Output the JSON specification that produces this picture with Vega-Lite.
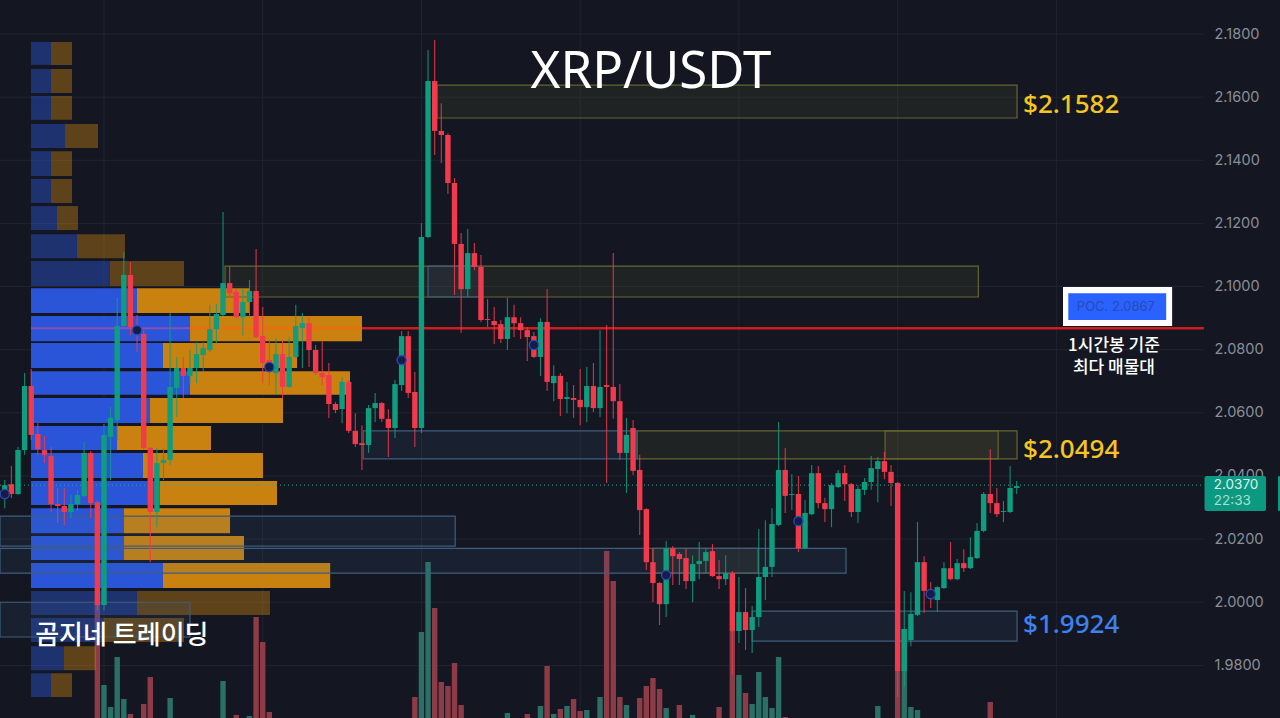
{"$schema":"https://vega.github.io/schema/vega-lite/v6.json","width":1280,"height":718,"autosize":"none","padding":0,"background":"#141722","config":{"view":{"stroke":null}},
"datasets":{
"ticks":[{"p":1.98},{"p":2.0},{"p":2.02},{"p":2.04},{"p":2.06},{"p":2.08},{"p":2.1},{"p":2.12},{"p":2.14},{"p":2.16},{"p":2.18}],
"vgrid":[{"i":15},{"i":39},{"i":63},{"i":87},{"i":111},{"i":135},{"i":159}],
"volume":[{"i":14,"v":113,"d":"down"},{"i":15,"v":33,"d":"up"},{"i":16,"v":11,"d":"up"},{"i":17,"v":61,"d":"up"},{"i":18,"v":19,"d":"up"},{"i":19,"v":4,"d":"down"},{"i":21,"v":14,"d":"down"},{"i":22,"v":41,"d":"down"},{"i":25,"v":20,"d":"up"},{"i":33,"v":37,"d":"up"},{"i":35,"v":3,"d":"down"},{"i":37,"v":2,"d":"up"},{"i":38,"v":101,"d":"down"},{"i":39,"v":76,"d":"down"},{"i":40,"v":6,"d":"down"},{"i":62,"v":21,"d":"down"},{"i":63,"v":86,"d":"up"},{"i":64,"v":156,"d":"up"},{"i":65,"v":110,"d":"down"},{"i":66,"v":36,"d":"down"},{"i":67,"v":32,"d":"down"},{"i":68,"v":55,"d":"down"},{"i":69,"v":13,"d":"down"},{"i":76,"v":5,"d":"up"},{"i":79,"v":4,"d":"down"},{"i":81,"v":12,"d":"up"},{"i":82,"v":52,"d":"down"},{"i":83,"v":4,"d":"up"},{"i":84,"v":9,"d":"down"},{"i":85,"v":12,"d":"up"},{"i":86,"v":19,"d":"down"},{"i":87,"v":7,"d":"down"},{"i":88,"v":8,"d":"up"},{"i":90,"v":21,"d":"up"},{"i":91,"v":167,"d":"down"},{"i":92,"v":137,"d":"down"},{"i":93,"v":21,"d":"down"},{"i":94,"v":13,"d":"up"},{"i":96,"v":20,"d":"down"},{"i":97,"v":32,"d":"down"},{"i":98,"v":40,"d":"down"},{"i":99,"v":29,"d":"down"},{"i":100,"v":10,"d":"up"},{"i":102,"v":13,"d":"down"},{"i":104,"v":3,"d":"up"},{"i":108,"v":11,"d":"down"},{"i":110,"v":87,"d":"down"},{"i":111,"v":43,"d":"up"},{"i":112,"v":25,"d":"down"},{"i":113,"v":14,"d":"up"},{"i":114,"v":46,"d":"up"},{"i":115,"v":21,"d":"up"},{"i":116,"v":10,"d":"up"},{"i":117,"v":61,"d":"up"},{"i":118,"v":1,"d":"down"},{"i":132,"v":12,"d":"up"},{"i":135,"v":47,"d":"down"},{"i":136,"v":89,"d":"up"},{"i":137,"v":11,"d":"up"},{"i":138,"v":8,"d":"up"},{"i":149,"v":16,"d":"down"}],
"profile":[
{"hi":2.1775,"lo":2.1702,"s":3.97,"m":6.99,"e":10.17,"f":1},
{"hi":2.1689,"lo":2.1613,"s":3.97,"m":6.99,"e":10.17,"f":1},
{"hi":2.1604,"lo":2.1528,"s":3.97,"m":6.99,"e":10.17,"f":1},
{"hi":2.1515,"lo":2.1439,"s":3.97,"m":9.11,"e":14.1,"f":1},
{"hi":2.1429,"lo":2.135,"s":3.97,"m":6.99,"e":10.17,"f":1},
{"hi":2.1341,"lo":2.1265,"s":3.97,"m":6.99,"e":10.17,"f":1},
{"hi":2.1255,"lo":2.1179,"s":3.97,"m":7.9,"e":11.07,"f":1},
{"hi":2.1166,"lo":2.109,"s":3.97,"m":10.92,"e":18.18,"f":1},
{"hi":2.1081,"lo":2.1002,"s":3.97,"m":15.91,"e":27.1,"f":1},
{"hi":2.0995,"lo":2.0916,"s":3.97,"m":19.99,"e":37.08,"f":0},
{"hi":2.0907,"lo":2.0827,"s":3.97,"m":28.01,"e":54.01,"f":0},
{"hi":2.0821,"lo":2.0742,"s":3.97,"m":23.92,"e":44.19,"f":0},
{"hi":2.0732,"lo":2.0657,"s":3.97,"m":28.01,"e":52.2,"f":0},
{"hi":2.0647,"lo":2.0568,"s":3.97,"m":21.96,"e":42.07,"f":0},
{"hi":2.0558,"lo":2.0482,"s":3.97,"m":16.97,"e":31.18,"f":0},
{"hi":2.0473,"lo":2.0394,"s":3.97,"m":20.9,"e":39.04,"f":0},
{"hi":2.0384,"lo":2.0308,"s":3.97,"m":23.47,"e":41.16,"f":0},
{"hi":2.0298,"lo":2.0219,"s":3.97,"m":18.03,"e":34.06,"f":0},
{"hi":2.021,"lo":2.0134,"s":3.97,"m":18.03,"e":36.17,"f":0},
{"hi":2.0124,"lo":2.0045,"s":3.97,"m":23.92,"e":49.2,"f":0},
{"hi":2.0036,"lo":1.996,"s":3.97,"m":19.99,"e":40.1,"f":1},
{"hi":1.995,"lo":1.9874,"s":3.97,"m":15.0,"e":27.1,"f":1},
{"hi":1.9861,"lo":1.9785,"s":3.97,"m":8.95,"e":13.8,"f":1},
{"hi":1.9775,"lo":1.97,"s":3.97,"m":6.99,"e":10.17,"f":1}],
"zones":[
{"a":65.35,"b":153.05,"hi":2.1638,"lo":2.1534,"k":"supply"},
{"a":33.3,"b":147.2,"hi":2.1065,"lo":2.0967,"k":"supply"},
{"a":95.6,"b":153.05,"hi":2.0543,"lo":2.0454,"k":"supply"},
{"a":133.1,"b":150.2,"hi":2.0543,"lo":2.0454,"k":"supply"},
{"a":98.0,"b":113.9,"hi":2.0171,"lo":2.0092,"k":"supply"},
{"a":54.2,"b":95.6,"hi":2.0543,"lo":2.0454,"k":"demand"},
{"a":64,"b":72,"hi":2.1065,"lo":2.0967,"k":"demand"},
{"a":-0.72,"b":68.1,"hi":2.0273,"lo":2.0178,"k":"demand"},
{"a":-0.72,"b":127.2,"hi":2.0171,"lo":2.0092,"k":"demand"},
{"a":113,"b":153.05,"hi":1.9972,"lo":1.9877,"k":"demand"},
{"a":-0.72,"b":28,"hi":2.0,"lo":1.989,"k":"demand"}],
"candles":[
{"i":0,"o":2.0353,"c":2.0371,"h":2.0387,"l":2.0298},
{"i":1,"o":2.0374,"c":2.0343,"h":2.0432,"l":2.033},
{"i":2,"o":2.0343,"c":2.0482,"h":2.0492,"l":2.034},
{"i":3,"o":2.0482,"c":2.0685,"h":2.0726,"l":2.0467},
{"i":4,"o":2.0685,"c":2.053,"h":2.0739,"l":2.0514},
{"i":5,"o":2.0533,"c":2.0485,"h":2.0567,"l":2.0467},
{"i":6,"o":2.0482,"c":2.0467,"h":2.0527,"l":2.0441},
{"i":7,"o":2.0463,"c":2.0311,"h":2.0492,"l":2.0286},
{"i":8,"o":2.0311,"c":2.0305,"h":2.0362,"l":2.0251},
{"i":9,"o":2.0305,"c":2.0286,"h":2.0362,"l":2.0245},
{"i":10,"o":2.0286,"c":2.0311,"h":2.034,"l":2.0267},
{"i":11,"o":2.0311,"c":2.034,"h":2.0356,"l":2.0289},
{"i":12,"o":2.0337,"c":2.0473,"h":2.0508,"l":2.0333},
{"i":13,"o":2.0473,"c":2.0314,"h":2.0479,"l":2.0267},
{"i":14,"o":2.0317,"c":1.9991,"h":2.0324,"l":1.9975},
{"i":15,"o":1.9991,"c":2.053,"h":2.0565,"l":1.9975},
{"i":16,"o":2.0524,"c":2.0584,"h":2.0618,"l":2.0387},
{"i":17,"o":2.0577,"c":2.0875,"h":2.0964,"l":2.0514},
{"i":18,"o":2.0875,"c":2.1037,"h":2.1109,"l":2.0869},
{"i":19,"o":2.1037,"c":2.0872,"h":2.1078,"l":2.0846},
{"i":20,"o":2.0872,"c":2.0856,"h":2.091,"l":2.0793},
{"i":21,"o":2.085,"c":2.0489,"h":2.0862,"l":2.0482},
{"i":22,"o":2.0489,"c":2.0286,"h":2.0492,"l":2.0127},
{"i":23,"o":2.0286,"c":2.0441,"h":2.0489,"l":2.0238},
{"i":24,"o":2.0441,"c":2.0451,"h":2.0489,"l":2.0387},
{"i":25,"o":2.0451,"c":2.0682,"h":2.0916,"l":2.0435},
{"i":26,"o":2.0679,"c":2.0742,"h":2.0777,"l":2.0587},
{"i":27,"o":2.0742,"c":2.0717,"h":2.0777,"l":2.0647},
{"i":28,"o":2.0717,"c":2.0742,"h":2.0799,"l":2.0688},
{"i":29,"o":2.0742,"c":2.0786,"h":2.0824,"l":2.0694},
{"i":30,"o":2.0783,"c":2.0805,"h":2.0824,"l":2.0729},
{"i":31,"o":2.0799,"c":2.0865,"h":2.0942,"l":2.0793},
{"i":32,"o":2.0865,"c":2.0913,"h":2.0945,"l":2.0821},
{"i":33,"o":2.091,"c":2.1011,"h":2.1236,"l":2.0907},
{"i":34,"o":2.1011,"c":2.0979,"h":2.1065,"l":2.0967},
{"i":35,"o":2.0983,"c":2.0903,"h":2.0995,"l":2.09},
{"i":36,"o":2.0903,"c":2.0951,"h":2.0995,"l":2.0846},
{"i":37,"o":2.0951,"c":2.0986,"h":2.1021,"l":2.0903},
{"i":38,"o":2.0986,"c":2.084,"h":2.1119,"l":2.0837},
{"i":39,"o":2.0843,"c":2.0758,"h":2.0935,"l":2.0694},
{"i":40,"o":2.0767,"c":2.0736,"h":2.0831,"l":2.0688},
{"i":41,"o":2.0726,"c":2.0786,"h":2.0837,"l":2.0657},
{"i":42,"o":2.0786,"c":2.0682,"h":2.0831,"l":2.0644},
{"i":43,"o":2.0682,"c":2.0777,"h":2.084,"l":2.0679},
{"i":44,"o":2.0777,"c":2.0875,"h":2.0942,"l":2.0774},
{"i":45,"o":2.0869,"c":2.0884,"h":2.0916,"l":2.0742},
{"i":46,"o":2.0884,"c":2.0799,"h":2.0903,"l":2.0745},
{"i":47,"o":2.0799,"c":2.0726,"h":2.0815,"l":2.072},
{"i":48,"o":2.0726,"c":2.0713,"h":2.0827,"l":2.0688},
{"i":49,"o":2.072,"c":2.0628,"h":2.0758,"l":2.0584},
{"i":50,"o":2.0628,"c":2.0609,"h":2.0634,"l":2.0599},
{"i":51,"o":2.0612,"c":2.0698,"h":2.0713,"l":2.0567},
{"i":52,"o":2.0698,"c":2.0543,"h":2.0704,"l":2.0536},
{"i":53,"o":2.0543,"c":2.0501,"h":2.0599,"l":2.0492},
{"i":54,"o":2.0504,"c":2.0498,"h":2.0561,"l":2.0419},
{"i":55,"o":2.0498,"c":2.0615,"h":2.0625,"l":2.0473},
{"i":56,"o":2.0615,"c":2.0631,"h":2.0663,"l":2.0571},
{"i":57,"o":2.0631,"c":2.0581,"h":2.0634,"l":2.0571},
{"i":58,"o":2.0581,"c":2.0552,"h":2.0612,"l":2.046},
{"i":59,"o":2.0552,"c":2.0691,"h":2.0704,"l":2.052},
{"i":60,"o":2.0688,"c":2.0843,"h":2.0859,"l":2.0669},
{"i":61,"o":2.0843,"c":2.0663,"h":2.0859,"l":2.0647},
{"i":62,"o":2.0666,"c":2.0552,"h":2.0729,"l":2.0492},
{"i":63,"o":2.0552,"c":2.1157,"h":2.1201,"l":2.0536},
{"i":64,"o":2.1157,"c":2.1651,"h":2.1749,"l":2.1153},
{"i":65,"o":2.1651,"c":2.1493,"h":2.1781,"l":2.1417},
{"i":66,"o":2.1493,"c":2.148,"h":2.1581,"l":2.1391},
{"i":67,"o":2.148,"c":2.1328,"h":2.1486,"l":2.1293},
{"i":68,"o":2.1328,"c":2.1135,"h":2.1344,"l":2.0973},
{"i":69,"o":2.1135,"c":2.0992,"h":2.117,"l":2.0853},
{"i":70,"o":2.0992,"c":2.1106,"h":2.1182,"l":2.0967},
{"i":71,"o":2.1106,"c":2.1062,"h":2.1138,"l":2.1052},
{"i":72,"o":2.1062,"c":2.0894,"h":2.11,"l":2.0888},
{"i":73,"o":2.0897,"c":2.0894,"h":2.096,"l":2.0872},
{"i":74,"o":2.0891,"c":2.0878,"h":2.0935,"l":2.0818},
{"i":75,"o":2.0881,"c":2.0834,"h":2.0894,"l":2.0821},
{"i":76,"o":2.0834,"c":2.0903,"h":2.0964,"l":2.0799},
{"i":77,"o":2.0903,"c":2.0884,"h":2.0942,"l":2.084},
{"i":78,"o":2.0884,"c":2.0862,"h":2.0903,"l":2.0834},
{"i":79,"o":2.0862,"c":2.084,"h":2.0872,"l":2.0764},
{"i":80,"o":2.0843,"c":2.0777,"h":2.0856,"l":2.0774},
{"i":81,"o":2.0777,"c":2.0888,"h":2.09,"l":2.0717},
{"i":82,"o":2.0888,"c":2.0698,"h":2.0992,"l":2.0669},
{"i":83,"o":2.0694,"c":2.0717,"h":2.0751,"l":2.0637},
{"i":84,"o":2.0717,"c":2.0644,"h":2.0726,"l":2.059},
{"i":85,"o":2.0644,"c":2.065,"h":2.0698,"l":2.0599},
{"i":86,"o":2.0647,"c":2.0641,"h":2.0688,"l":2.0584},
{"i":87,"o":2.0641,"c":2.0618,"h":2.0739,"l":2.0561},
{"i":88,"o":2.0618,"c":2.0685,"h":2.0745,"l":2.0571},
{"i":89,"o":2.0685,"c":2.0615,"h":2.0758,"l":2.0603},
{"i":90,"o":2.0615,"c":2.0682,"h":2.0862,"l":2.0587},
{"i":91,"o":2.0688,"c":2.0682,"h":2.0878,"l":2.0378},
{"i":92,"o":2.0682,"c":2.0637,"h":2.1106,"l":2.0581},
{"i":93,"o":2.0637,"c":2.0473,"h":2.0691,"l":2.0451},
{"i":94,"o":2.0473,"c":2.053,"h":2.0584,"l":2.0346},
{"i":95,"o":2.0552,"c":2.0416,"h":2.0577,"l":2.0403},
{"i":96,"o":2.0419,"c":2.0292,"h":2.0467,"l":2.0213},
{"i":97,"o":2.0295,"c":2.0127,"h":2.0298,"l":2.0102},
{"i":98,"o":2.0127,"c":2.0061,"h":2.0171,"l":2.0},
{"i":99,"o":2.0061,"c":1.9994,"h":2.0064,"l":1.9928},
{"i":100,"o":1.9994,"c":2.0171,"h":2.0194,"l":1.9953},
{"i":101,"o":2.0171,"c":2.0146,"h":2.0178,"l":2.0055},
{"i":102,"o":2.0153,"c":2.0137,"h":2.0159,"l":2.0055},
{"i":103,"o":2.014,"c":2.0067,"h":2.0171,"l":2.0042},
{"i":104,"o":2.0067,"c":2.0121,"h":2.0149,"l":2.0},
{"i":105,"o":2.0121,"c":2.0131,"h":2.0191,"l":2.0073},
{"i":106,"o":2.0131,"c":2.0159,"h":2.0171,"l":2.0092},
{"i":107,"o":2.0162,"c":2.0083,"h":2.0184,"l":2.008},
{"i":108,"o":2.0083,"c":2.0073,"h":2.0134,"l":2.0042},
{"i":109,"o":2.0073,"c":2.0092,"h":2.0149,"l":2.0055},
{"i":110,"o":2.0092,"c":1.9909,"h":2.0099,"l":1.977},
{"i":111,"o":1.9909,"c":1.9969,"h":2.008,"l":1.9871},
{"i":112,"o":1.9969,"c":1.9912,"h":2.0045,"l":1.9849},
{"i":113,"o":1.9912,"c":1.9953,"h":1.9988,"l":1.9839},
{"i":114,"o":1.9953,"c":2.008,"h":2.0232,"l":1.9922},
{"i":115,"o":2.008,"c":2.0112,"h":2.026,"l":2.0007},
{"i":116,"o":2.0112,"c":2.0248,"h":2.0298,"l":2.008},
{"i":117,"o":2.0245,"c":2.0419,"h":2.0571,"l":2.0241},
{"i":118,"o":2.0419,"c":2.0337,"h":2.0489,"l":2.0283},
{"i":119,"o":2.034,"c":2.0343,"h":2.0406,"l":2.0292},
{"i":120,"o":2.0343,"c":2.0171,"h":2.04,"l":2.0159},
{"i":121,"o":2.0171,"c":2.0283,"h":2.0324,"l":2.0168},
{"i":122,"o":2.0279,"c":2.0409,"h":2.0435,"l":2.0276},
{"i":123,"o":2.0409,"c":2.0314,"h":2.0432,"l":2.0298},
{"i":124,"o":2.0314,"c":2.0295,"h":2.033,"l":2.0254},
{"i":125,"o":2.0295,"c":2.0371,"h":2.0378,"l":2.0238},
{"i":126,"o":2.0365,"c":2.0409,"h":2.0419,"l":2.0362},
{"i":127,"o":2.0409,"c":2.0374,"h":2.0435,"l":2.0321},
{"i":128,"o":2.0374,"c":2.0286,"h":2.0378,"l":2.027},
{"i":129,"o":2.0286,"c":2.0359,"h":2.0371,"l":2.0251},
{"i":130,"o":2.0356,"c":2.0381,"h":2.0394,"l":2.034},
{"i":131,"o":2.0381,"c":2.0425,"h":2.0463,"l":2.0356},
{"i":132,"o":2.0422,"c":2.0447,"h":2.046,"l":2.0317},
{"i":133,"o":2.0447,"c":2.0413,"h":2.0476,"l":2.039},
{"i":134,"o":2.0413,"c":2.0378,"h":2.0435,"l":2.0305},
{"i":135,"o":2.0378,"c":1.9782,"h":2.0381,"l":1.97},
{"i":136,"o":1.9782,"c":1.9915,"h":2.0036,"l":1.9732},
{"i":137,"o":1.988,"c":1.9963,"h":2.0032,"l":1.9861},
{"i":138,"o":1.996,"c":2.0127,"h":2.0254,"l":1.9956},
{"i":139,"o":2.0127,"c":2.0036,"h":2.0146,"l":1.9966},
{"i":140,"o":2.0036,"c":2.001,"h":2.0064,"l":1.9982},
{"i":141,"o":2.0007,"c":2.0048,"h":2.0051,"l":1.9969},
{"i":142,"o":2.0045,"c":2.0108,"h":2.0127,"l":2.0042},
{"i":143,"o":2.0108,"c":2.0073,"h":2.0191,"l":2.007},
{"i":144,"o":2.0073,"c":2.0124,"h":2.0137,"l":2.007},
{"i":145,"o":2.0124,"c":2.0108,"h":2.0168,"l":2.0096},
{"i":146,"o":2.0108,"c":2.0143,"h":2.0206,"l":2.0105},
{"i":147,"o":2.014,"c":2.0226,"h":2.0251,"l":2.0137},
{"i":148,"o":2.0226,"c":2.0343,"h":2.0349,"l":2.0222},
{"i":149,"o":2.0343,"c":2.0314,"h":2.0485,"l":2.0283},
{"i":150,"o":2.0314,"c":2.0279,"h":2.0362,"l":2.027},
{"i":151,"o":2.0286,"c":2.0289,"h":2.0321,"l":2.0254},
{"i":152,"o":2.0286,"c":2.0362,"h":2.0432,"l":2.0283},
{"i":153,"o":2.0362,"c":2.0368,"h":2.0384,"l":2.0343}],
"signals":[{"i":0,"p":2.0343},{"i":20,"p":2.0862},{"i":40,"p":2.0745},{"i":60,"p":2.0767},{"i":80,"p":2.0815},{"i":100,"p":2.0086},{"i":120,"p":2.0257},{"i":140,"p":2.0026}]
},
"resolve":{"scale":{"y":"independent"}},
"layer":[
{"data":{"name":"vgrid"},"mark":{"type":"rule","color":"#20242f","strokeWidth":1},"encoding":{"x":{"field":"i","type":"quantitative","scale":{"domain":[-0.721,192.81],"padding":0},"axis":null}}},
{"data":{"name":"ticks"},"mark":{"type":"rule","color":"#20242f","strokeWidth":1},"encoding":{"x":{"datum":-0.721,"type":"quantitative","scale":{"domain":[-0.721,192.81],"padding":0},"axis":null},"x2":{"datum":181.3},"y":{"field":"p","type":"quantitative","scale":{"domain":[1.96334,2.19077],"zero":false,"nice":false},"axis":{"orient":"right","offset":-76,"values":[1.98,2.0,2.02,2.04,2.06,2.08,2.1,2.12,2.14,2.16,2.18],"format":".4f","domain":false,"ticks":false,"grid":false,"title":null,"labelPadding":10,"labelColor":"#8b8e98","labelFont":"Inter","labelFontSize":14.5}}}},
{"data":{"name":"volume"},"mark":{"type":"bar","size":5.4},"encoding":{"x":{"field":"i","type":"quantitative","scale":{"domain":[-0.721,192.81],"padding":0},"axis":null},"y":{"field":"v","type":"quantitative","stack":null,"scale":{"domain":[0,718],"nice":false},"axis":null},"color":{"field":"d","type":"nominal","scale":{"domain":["up","down"],"range":["#2a7067","#8e3b48"]},"legend":null}}},
{"data":{"name":"profile"},"mark":{"type":"rect","color":"#2b55d8"},"encoding":{"x":{"field":"s","type":"quantitative","scale":{"domain":[-0.721,192.81],"padding":0},"axis":null},"x2":{"field":"m"},"y":{"field":"hi","type":"quantitative","scale":{"domain":[1.96334,2.19077],"zero":false,"nice":false},"axis":null},"y2":{"field":"lo"},"opacity":{"condition":{"test":"datum.f==1","value":0.43},"value":1}}},
{"data":{"name":"profile"},"mark":{"type":"rect","color":"#c9820f"},"encoding":{"x":{"field":"m","type":"quantitative","scale":{"domain":[-0.721,192.81],"padding":0},"axis":null},"x2":{"field":"e"},"y":{"field":"hi","type":"quantitative","scale":{"domain":[1.96334,2.19077],"zero":false,"nice":false},"axis":null},"y2":{"field":"lo"},"opacity":{"condition":{"test":"datum.f==1","value":0.41},"value":1}}},
{"data":{"name":"zones"},"mark":{"type":"rect","strokeWidth":1.2,"fillOpacity":0.12},"encoding":{"x":{"field":"a","type":"quantitative","scale":{"domain":[-0.721,192.81],"padding":0},"axis":null},"x2":{"field":"b"},"y":{"field":"hi","type":"quantitative","scale":{"domain":[1.96334,2.19077],"zero":false,"nice":false},"axis":null},"y2":{"field":"lo"},"fill":{"field":"k","type":"nominal","scale":{"domain":["supply","demand"],"range":["#7d7a3a","#3f6f9c"]},"legend":null},"stroke":{"field":"k","type":"nominal","scale":{"domain":["supply","demand"],"range":["#67642f","#3f5d7c"]},"legend":null}}},
{"data":{"values":[{"a":3.97,"b":28.01,"p":2.0868}]},"mark":{"type":"rule","color":"#8a4fb8","strokeWidth":2.2},"encoding":{"x":{"field":"a","type":"quantitative","scale":{"domain":[-0.721,192.81],"padding":0},"axis":null},"x2":{"field":"b"},"y":{"field":"p","type":"quantitative","scale":{"domain":[1.96334,2.19077],"zero":false,"nice":false},"axis":null}}},
{"data":{"values":[{"a":28.01,"b":54.01,"p":2.0868}]},"mark":{"type":"rule","color":"#f26a0c","strokeWidth":2.2},"encoding":{"x":{"field":"a","type":"quantitative","scale":{"domain":[-0.721,192.81],"padding":0},"axis":null},"x2":{"field":"b"},"y":{"field":"p","type":"quantitative","scale":{"domain":[1.96334,2.19077],"zero":false,"nice":false},"axis":null}}},
{"data":{"values":[{"a":54.01,"b":181.3,"p":2.0868}]},"mark":{"type":"rule","color":"#cf1c1c","strokeWidth":2.6},"encoding":{"x":{"field":"a","type":"quantitative","scale":{"domain":[-0.721,192.81],"padding":0},"axis":null},"x2":{"field":"b"},"y":{"field":"p","type":"quantitative","scale":{"domain":[1.96334,2.19077],"zero":false,"nice":false},"axis":null}}},
{"data":{"values":[{"a":-0.721,"b":181.3,"p":2.0371}]},"mark":{"type":"rule","color":"#2aa893","strokeWidth":1,"strokeDash":[1,3]},"encoding":{"x":{"field":"a","type":"quantitative","scale":{"domain":[-0.721,192.81],"padding":0},"axis":null},"x2":{"field":"b"},"y":{"field":"p","type":"quantitative","scale":{"domain":[1.96334,2.19077],"zero":false,"nice":false},"axis":null}}},
{"data":{"name":"candles"},"mark":{"type":"rule","strokeWidth":1.1,"opacity":0.85},"encoding":{"x":{"field":"i","type":"quantitative","scale":{"domain":[-0.721,192.81],"padding":0},"axis":null},"y":{"field":"h","type":"quantitative","scale":{"domain":[1.96334,2.19077],"zero":false,"nice":false},"axis":null},"y2":{"field":"l"},"color":{"condition":{"test":"datum.c>=datum.o","value":"#0f9d80"},"value":"#f23a4c"}}},
{"data":{"name":"candles"},"mark":{"type":"bar","size":5.4},"encoding":{"x":{"field":"i","type":"quantitative","scale":{"domain":[-0.721,192.81],"padding":0},"axis":null},"y":{"field":"o","type":"quantitative","scale":{"domain":[1.96334,2.19077],"zero":false,"nice":false},"axis":null},"y2":{"field":"c"},"color":{"condition":{"test":"datum.c>=datum.o","value":"#0f9d80"},"value":"#f23a4c"}}},
{"data":{"name":"signals"},"mark":{"type":"point","filled":true,"fill":"#141d48","stroke":"#2b4cb8","strokeWidth":1.3,"size":85,"opacity":1},"encoding":{"x":{"field":"i","type":"quantitative","scale":{"domain":[-0.721,192.81],"padding":0},"axis":null},"y":{"field":"p","type":"quantitative","scale":{"domain":[1.96334,2.19077],"zero":false,"nice":false},"axis":null}}},
{"data":{"values":[{"a":160.0,"b":176.5,"hi":2.0999,"lo":2.0875}]},"mark":{"type":"rect","color":"#ffffff"},"encoding":{"x":{"field":"a","type":"quantitative","scale":{"domain":[-0.721,192.81],"padding":0},"axis":null},"x2":{"field":"b"},"y":{"field":"hi","type":"quantitative","scale":{"domain":[1.96334,2.19077],"zero":false,"nice":false},"axis":null},"y2":{"field":"lo"}}},
{"data":{"values":[{"a":160.8,"b":175.6,"hi":2.0979,"lo":2.0894}]},"mark":{"type":"rect","color":"#2962ff"},"encoding":{"x":{"field":"a","type":"quantitative","scale":{"domain":[-0.721,192.81],"padding":0},"axis":null},"x2":{"field":"b"},"y":{"field":"hi","type":"quantitative","scale":{"domain":[1.96334,2.19077],"zero":false,"nice":false},"axis":null},"y2":{"field":"lo"}}},
{"data":{"values":[{"a":181.4,"b":190.7,"hi":2.04,"lo":2.0289},{"a":192.5,"b":192.81,"hi":2.04,"lo":2.0289}]},"mark":{"type":"rect","color":"#0c9981","cornerRadius":2},"encoding":{"x":{"field":"a","type":"quantitative","scale":{"domain":[-0.721,192.81],"padding":0},"axis":null},"x2":{"field":"b"},"y":{"field":"hi","type":"quantitative","scale":{"domain":[1.96334,2.19077],"zero":false,"nice":false},"axis":null},"y2":{"field":"lo"}}},
{"data":{"values":[{"t":"XRP/USDT","i":97.7,"p":2.1677}]},"mark":{"type":"text","font":"Noto Sans","fontSize":51,"color":"#ffffff","align":"center","baseline":"middle"},"encoding":{"x":{"field":"i","type":"quantitative","scale":{"domain":[-0.721,192.81],"padding":0},"axis":null},"y":{"field":"p","type":"quantitative","scale":{"domain":[1.96334,2.19077],"zero":false,"nice":false},"axis":null},"text":{"field":"t"}}},
{"data":{"values":[{"t":"$2.1582","i":153.96,"p":2.1575},{"t":"$2.0494","i":153.96,"p":2.0482}]},"mark":{"type":"text","font":"Noto Sans","fontSize":26,"fontWeight":500,"color":"#f5c623","align":"left","baseline":"middle"},"encoding":{"x":{"field":"i","type":"quantitative","scale":{"domain":[-0.721,192.81],"padding":0},"axis":null},"y":{"field":"p","type":"quantitative","scale":{"domain":[1.96334,2.19077],"zero":false,"nice":false},"axis":null},"text":{"field":"t"}}},
{"data":{"values":[{"t":"$1.9924","i":153.96,"p":1.9928}]},"mark":{"type":"text","font":"Noto Sans","fontSize":26,"fontWeight":500,"color":"#3d82f0","align":"left","baseline":"middle"},"encoding":{"x":{"field":"i","type":"quantitative","scale":{"domain":[-0.721,192.81],"padding":0},"axis":null},"y":{"field":"p","type":"quantitative","scale":{"domain":[1.96334,2.19077],"zero":false,"nice":false},"axis":null},"text":{"field":"t"}}},
{"data":{"values":[{"t":"곰지네 트레이딩","i":17.7,"p":1.9893}]},"mark":{"type":"text","font":"Noto Sans CJK KR","fontSize":26,"fontWeight":500,"color":"#ffffff","align":"center","baseline":"middle"},"encoding":{"x":{"field":"i","type":"quantitative","scale":{"domain":[-0.721,192.81],"padding":0},"axis":null},"y":{"field":"p","type":"quantitative","scale":{"domain":[1.96334,2.19077],"zero":false,"nice":false},"axis":null},"text":{"field":"t"}}},
{"data":{"values":[{"t":"1시간봉 기준","i":167.7,"p":2.0811},{"t":"최다 매물대","i":167.7,"p":2.0743}]},"mark":{"type":"text","font":"Noto Sans CJK KR","fontSize":17,"fontWeight":500,"color":"#ffffff","align":"center","baseline":"middle"},"encoding":{"x":{"field":"i","type":"quantitative","scale":{"domain":[-0.721,192.81],"padding":0},"axis":null},"y":{"field":"p","type":"quantitative","scale":{"domain":[1.96334,2.19077],"zero":false,"nice":false},"axis":null},"text":{"field":"t"}}},
{"data":{"values":[{"t":"POC. 2.0867","i":168,"p":2.0935}]},"mark":{"type":"text","font":"Inter","fontSize":13,"color":"#2a4ab5","align":"center","baseline":"middle"},"encoding":{"x":{"field":"i","type":"quantitative","scale":{"domain":[-0.721,192.81],"padding":0},"axis":null},"y":{"field":"p","type":"quantitative","scale":{"domain":[1.96334,2.19077],"zero":false,"nice":false},"axis":null},"text":{"field":"t"}}},
{"data":{"values":[{"t":"2.0370","i":182.8,"p":2.0371}]},"mark":{"type":"text","font":"Inter","fontSize":13.5,"color":"#dcf2ec","align":"left","baseline":"middle"},"encoding":{"x":{"field":"i","type":"quantitative","scale":{"domain":[-0.721,192.81],"padding":0},"axis":null},"y":{"field":"p","type":"quantitative","scale":{"domain":[1.96334,2.19077],"zero":false,"nice":false},"axis":null},"text":{"field":"t"}}},
{"data":{"values":[{"t":"22:33","i":182.8,"p":2.0321}]},"mark":{"type":"text","font":"Inter","fontSize":13.5,"color":"#a8dfd2","align":"left","baseline":"middle"},"encoding":{"x":{"field":"i","type":"quantitative","scale":{"domain":[-0.721,192.81],"padding":0},"axis":null},"y":{"field":"p","type":"quantitative","scale":{"domain":[1.96334,2.19077],"zero":false,"nice":false},"axis":null},"text":{"field":"t"}}}
]}
